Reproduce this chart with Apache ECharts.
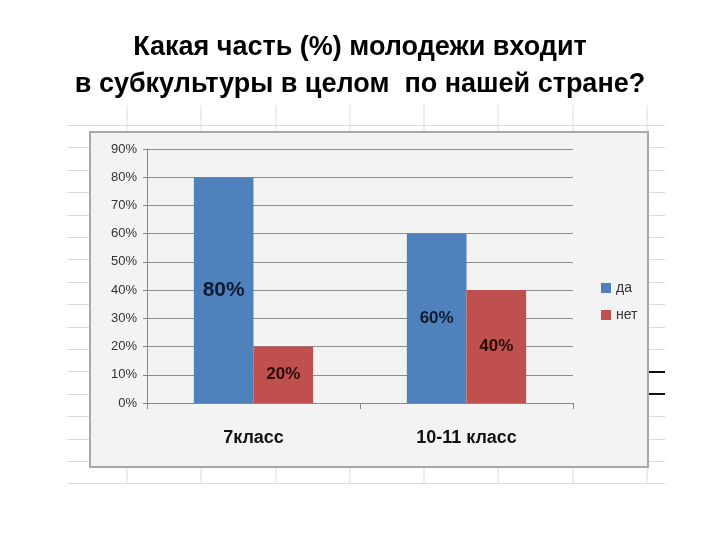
<!DOCTYPE html>
<html><head><meta charset="utf-8">
<script src="https://cdn.jsdelivr.net/npm/echarts@6/dist/echarts.min.js"></script>
<style>html,body{margin:0;padding:0;background:#fff}#c{width:720px;height:540px}</style>
</head><body><div id="c"></div>
<script>
const titleLines = ['Какая часть (%) молодежи входит', 'в субкультуры в целом  по нашей стране?'];
const categories = ['7класс', '10-11 класс'];
const seriesNames = ['да', 'нет'];
const daValues = [80, 60];
const netValues = [20, 40];
const yTicks = [0, 10, 20, 30, 40, 50, 60, 70, 80, 90];

// decorative spreadsheet background
const bg = [];
bg.push({type:'rect', z:-20, shape:{x:67,y:105,width:598,height:378}, style:{fill:'#ffffff'}});
const vx = [127, 201, 276, 350, 424, 498, 573, 647];
vx.forEach(x => bg.push({type:'line', z:-19, shape:{x1:x,y1:105,x2:x,y2:483}, style:{stroke:'#dcdcdc',lineWidth:1}}));
for (let y = 125; y <= 484; y += 22.4) {
  bg.push({type:'line', z:-19, shape:{x1:67,y1:Math.round(y)+0.5,x2:665,y2:Math.round(y)+0.5}, style:{stroke:'#dcdcdc',lineWidth:1}});
}
bg.push({type:'line', z:-19, shape:{x1:67,y1:483.5,x2:665,y2:483.5}, style:{stroke:'#dcdcdc',lineWidth:1}});
bg.push({type:'line', z:-18, shape:{x1:648,y1:372,x2:665,y2:372}, style:{stroke:'#111',lineWidth:2}});
bg.push({type:'line', z:-18, shape:{x1:648,y1:394,x2:665,y2:394}, style:{stroke:'#111',lineWidth:2}});
bg.push({type:'rect', z:-17, shape:{x:90,y:132,width:558,height:335}, style:{fill:'#f3f3f3',stroke:'#a8a8a8',lineWidth:2}});

const chart = echarts.init(document.getElementById('c'));
chart.setOption({
  animation:false,
  graphic: bg,
  title:{
    text: titleLines.join('\n'),
    left:'center', top:24,
    textStyle:{fontFamily:'Liberation Sans', fontWeight:'bold', fontSize:27, color:'#000', lineHeight:37}
  },
  legend:{
    orient:'vertical', left:596, top:276, itemWidth:10, itemHeight:10, itemGap:13,
    icon:'rect',
    textStyle:{fontFamily:'Liberation Sans', fontSize:14, color:'#333'},
    data: seriesNames
  },
  grid:{left:147, right:147, top:149, bottom:137},
  xAxis:{
    type:'category', data:categories,
    axisLine:{lineStyle:{color:'#888'}},
    axisTick:{show:true, length:6, lineStyle:{color:'#888'}},
    axisLabel:{margin:26, fontFamily:'Liberation Sans', fontWeight:'bold', fontSize:18, color:'#111'}
  },
  yAxis:{
    type:'value', min:0, max:90, interval:10,
    axisLine:{show:true, lineStyle:{color:'#888'}},
    axisTick:{show:true, length:4, lineStyle:{color:'#888'}},
    axisLabel:{formatter:'{value}%', margin:10, fontFamily:'Liberation Sans', fontSize:13, color:'#333'},
    splitLine:{lineStyle:{color:'#8c8c8c'}}
  },
  series:[
    {name:seriesNames[0], type:'bar', data:daValues, barGap:'0%', barCategoryGap:'44%',
     itemStyle:{color:'#4f81bd'},
     label:{show:true, position:'inside', formatter:'{c}%', fontFamily:'Liberation Sans', fontWeight:'bold', color:'#0f1a30', fontSize:17}},
    {name:seriesNames[1], type:'bar', data:netValues,
     itemStyle:{color:'#c0504d'},
     label:{show:true, position:'inside', formatter:'{c}%', fontFamily:'Liberation Sans', fontWeight:'bold', color:'#2a0a0a', fontSize:17}}
  ]
});
// larger label for the first blue bar
chart.setOption({series:[{data:[{value:daValues[0], label:{fontSize:21}}, daValues[1]]}]});
</script></body></html>
